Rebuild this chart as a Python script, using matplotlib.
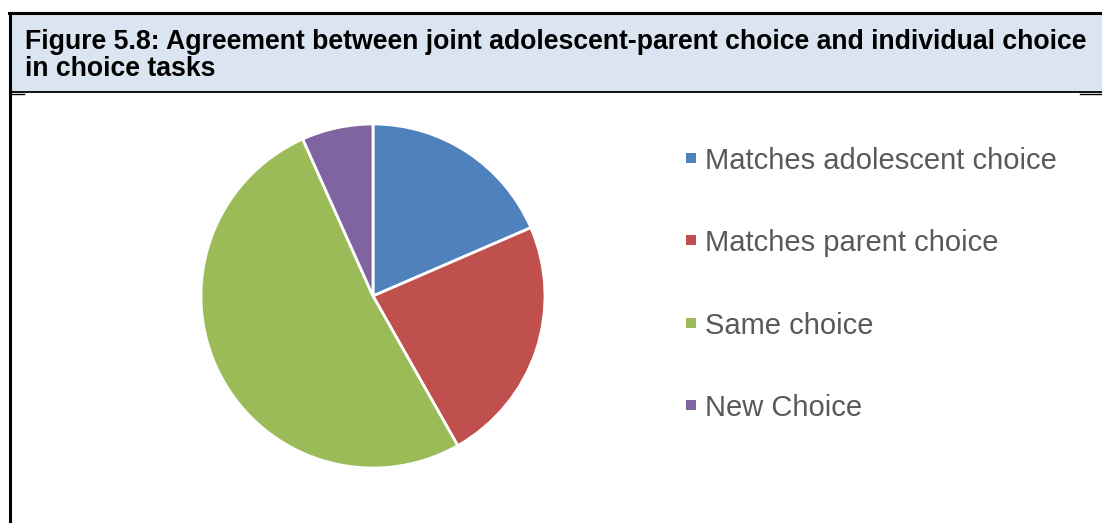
import matplotlib.pyplot as plt
from matplotlib.patches import Rectangle
from matplotlib.lines import Line2D

W, H = 1102, 523

title = "Figure 5.8: Agreement between joint adolescent-parent choice and individual choice\nin choice tasks"
labels = ["Matches adolescent choice", "Matches parent choice", "Same choice", "New Choice"]
shares = [18.5, 23.3, 51.5, 6.7]
colors = ["#4F81BD", "#C0504D", "#9BBB59", "#8064A2"]

plt.rcParams['font.family'] = ['Liberation Sans', 'DejaVu Sans']

fig = plt.figure(figsize=(W / 100, H / 100), dpi=100)


def px(x, y):
    # pixel coords (top-left origin) -> figure fraction
    return x / W, 1 - y / H


# header band and frame lines
fig.patches.append(Rectangle(px(10, 92), (W - 10) / W, 78 / H, transform=fig.transFigure,
                             facecolor="#DBE5F1", edgecolor="none", zorder=0))
for (x0, y0, x1, y1, lw) in [(9, 13, W, 13, 2.2), (10, 13, 10, H, 2.2),
                             (10, 92, W, 92, 1.3), (10, 94, 24, 94, 1.0),
                             (1080, 94, W, 94, 1.0)]:
    a, b = px(x0, y0)
    c, d = px(x1, y1)
    fig.add_artist(Line2D([a, c], [b, d], transform=fig.transFigure, color="black", lw=lw))

fig.text(25 / W, 1 - 29 / H, title, ha="left", va="top", fontsize=19.2,
         fontweight="bold", color="black", linespacing=1.05)

# pie
cx, cy, r = 373, 296, 172
ax = fig.add_axes([(cx - r) / W, (H - cy - r) / H, 2 * r / W, 2 * r / H])
ax.pie(shares, colors=colors, startangle=90, counterclock=False,
       wedgeprops=dict(edgecolor="white", linewidth=2))
ax.set_xlim(-1, 1)
ax.set_ylim(-1, 1)
ax.set_aspect("auto")
ax.axis("off")

# legend
for i, (lab, col) in enumerate(zip(labels, colors)):
    yc = 158 + i * 82.3
    fig.patches.append(Rectangle(px(686, yc + 5), 10 / W, 10 / H, transform=fig.transFigure,
                                 facecolor=col, edgecolor="none"))
    fig.text(705 / W, 1 - yc / H, lab, ha="left", va="center_baseline", fontsize=21,
             color="#595959")

fig.savefig("out.png", dpi=100)
